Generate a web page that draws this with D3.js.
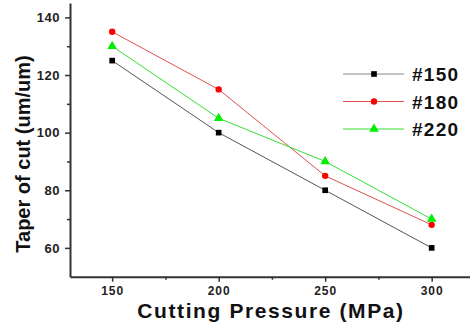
<!DOCTYPE html>
<html>
<head>
<meta charset="utf-8">
<script src="https://cdn.jsdelivr.net/npm/d3@7"></script>
<style>
  body { margin: 0; background: #fff; }
  text { font-family: Arial, "Liberation Sans", sans-serif; font-weight: bold; }
</style>
</head>
<body>
<div id="chart"></div>
<script>
const pressures = [150, 200, 250, 300];
const seriesNames = ["#150", "#180", "#220"];
const taper150 = [125, 100, 80, 60];
const taper180 = [135, 115, 85, 68];
const taper220 = [130, 105, 90, 70];
const xTicks = [150, 200, 250, 300];
const yTicks = [60, 80, 100, 120, 140];

const series = [
  {name: seriesNames[0], values: taper150, line: "#555", fill: "#000", shape: d3.symbolSquare},
  {name: seriesNames[1], values: taper180, line: "#e05050", fill: "#f00", shape: d3.symbolCircle},
  {name: seriesNames[2], values: taper220, line: "#33e033", fill: "#0e0", shape: d3.symbolTriangle}
];

const width = 470, height = 325;
const svg = d3.select("#chart").append("svg")
  .attr("width", width).attr("height", height);

// scales
const x = d3.scaleLinear().domain([130.2, 318]).range([70, 470]);
const y = d3.scaleLinear().domain([50, 145]).range([276.7, 3]);

// x axis (minor then major ticks)
svg.append("g")
  .attr("transform", `translate(0,${y(50)})`)
  .call(d3.axisBottom(x).tickValues([175, 225, 275]).tickSize(3).tickFormat(""))
  .call(g => g.select(".domain").remove())
  .selectAll("line").attr("stroke", "#333").attr("stroke-width", 1.5);
svg.append("g")
  .attr("transform", `translate(0,${y(50)})`)
  .call(d3.axisBottom(x).tickValues(xTicks).tickSize(5).tickSizeOuter(0).tickPadding(5))
  .call(g => g.select(".domain").attr("stroke", "#333").attr("stroke-width", 2))
  .call(g => g.selectAll("line").attr("stroke", "#333").attr("stroke-width", 1.5))
  .selectAll("text").style("font-size", "12px").style("letter-spacing", "1px").attr("fill", "#222");

// y axis
svg.append("g")
  .attr("transform", `translate(${x(130.2)},0)`)
  .call(d3.axisLeft(y).tickValues([70, 90, 110, 130]).tickSize(3).tickFormat(""))
  .call(g => g.select(".domain").remove())
  .selectAll("line").attr("stroke", "#333").attr("stroke-width", 1.5);
svg.append("g")
  .attr("transform", `translate(${x(130.2)},0)`)
  .call(d3.axisLeft(y).tickValues(yTicks).tickSize(5).tickSizeOuter(0).tickPadding(5))
  .call(g => g.select(".domain").attr("stroke", "#333").attr("stroke-width", 2))
  .call(g => g.selectAll("line").attr("stroke", "#333").attr("stroke-width", 1.5))
  .selectAll("text").style("font-size", "13px").style("letter-spacing", "0.5px").attr("fill", "#222");

// axis titles
svg.append("text")
  .attr("x", 271).attr("y", 318)
  .attr("text-anchor", "middle")
  .style("font-size", "21px")
  .style("letter-spacing", "1.6px")
  .attr("fill", "#111")
  .text("Cutting Pressure (MPa)");

svg.append("text")
  .attr("transform", "rotate(-90)")
  .attr("x", -154).attr("y", 30)
  .attr("text-anchor", "middle")
  .style("font-size", "20px")
  .attr("fill", "#111")
  .text("Taper of cut (um/um)");

// lines and markers
const line = d3.line()
  .x((d, i) => x(pressures[i]))
  .y(d => y(d));

series.forEach(s => {
  svg.append("path")
    .datum(s.values)
    .attr("fill", "none")
    .attr("stroke", s.line)
    .attr("stroke-width", 1)
    .attr("d", line);
  svg.selectAll(null)
    .data(s.values)
    .join("path")
    .attr("transform", (d, i) => `translate(${x(pressures[i])},${y(d)})`)
    .attr("d", d3.symbol().type(s.shape).size(s.shape === d3.symbolTriangle ? 40 : 32))
    .attr("fill", s.fill);
});

// legend
const legend = svg.append("g");
series.forEach((s, i) => {
  const ly = 74 + i * 27.5;
  legend.append("line")
    .attr("x1", 343).attr("x2", 404)
    .attr("y1", ly).attr("y2", ly)
    .attr("stroke", s.shape === d3.symbolSquare ? "#888" : s.line)
    .attr("stroke-width", 1);
  legend.append("path")
    .attr("transform", `translate(374,${ly})`)
    .attr("d", d3.symbol().type(s.shape).size(s.shape === d3.symbolTriangle ? 40 : 32))
    .attr("fill", s.fill);
  legend.append("text")
    .attr("x", 412).attr("y", ly + 7)
    .style("font-size", "19px")
    .style("letter-spacing", "1.3px")
    .attr("fill", "#111")
    .text(s.name);
});
</script>
</body>
</html>
